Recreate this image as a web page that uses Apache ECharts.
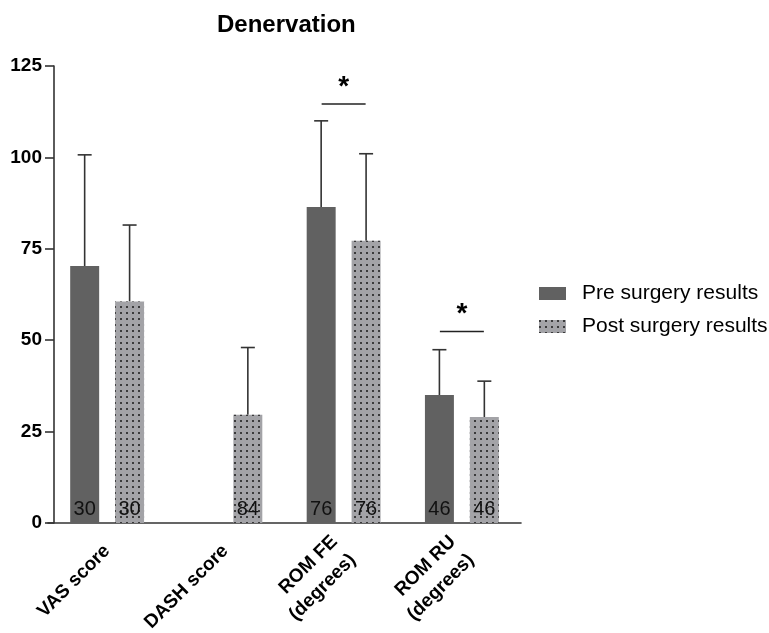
<!DOCTYPE html>
<html>
<head>
<meta charset="utf-8">
<script src="https://cdn.jsdelivr.net/npm/echarts@6/dist/echarts.min.js"></script>
<style>
  html, body { margin: 0; padding: 0; background: #fff; }
  #echarts { width: 769px; height: 633px; }
</style>
</head>
<body>
<div id="echarts"></div>
<script>
const categories = ['VAS score', 'DASH score', 'ROM FE\n(degrees)', 'ROM RU\n(degrees)'];
// mean values
const preMean = [70.3, '-', 86.4, 35.0];
const postMean = [60.6, 29.6, 77.2, 29.0];
// top of error bar (mean + SD)
const preUpper = [100.7, null, 110.0, 47.4];
const postUpper = [81.5, 48.0, 101.0, 38.8];
// n shown inside the bars
const preN = [30, null, 76, 46];
const postN = [30, 84, 76, 46];
// significance bars: [category index, height]
const sigBars = [[2, 114.6], [3, 52.4]];

const FONT = '"Liberation Sans", Arial, sans-serif';
const SHIFT = 0.19; // bar centre offset as part of the band

const chartDom = document.getElementById('echarts');
const myChart = echarts.init(chartDom);

function errorData(means, uppers) {
    let out = [];
    means.forEach((m, i) => {
        if (uppers[i] != null) out.push([i, m, uppers[i]]);
    });
    return out;
}

function errorRender(side) {
    return function (params, api) {
        const band = api.size([1, 0])[0];
        const x = api.coord([api.value(0), 0])[0] + side * band * SHIFT;
        const yBase = api.coord([api.value(0), api.value(1)])[1];
        const yTop = api.coord([api.value(0), api.value(2)])[1];
        const style = { stroke: '#333', lineWidth: 1.6 };
        return {
            type: 'group',
            children: [
                { type: 'line', shape: { x1: x, y1: yBase, x2: x, y2: yTop }, style: style },
                { type: 'line', shape: { x1: x - 7, y1: yTop, x2: x + 7, y2: yTop }, style: style }
            ]
        };
    };
}

let option = {
    backgroundColor: '#fff',
    title: {
        text: 'Denervation',
        left: 212,
        top: 8,
        textStyle: { fontFamily: FONT, fontWeight: 'bold', fontSize: 24, color: '#000' }
    },
    legend: {
        orient: 'vertical',
        left: 534,
        top: 278,
        itemWidth: 27,
        itemHeight: 13,
        itemGap: 12,
        icon: 'rect',
        data: ['Pre surgery results', 'Post surgery results'],
        textStyle: { fontFamily: FONT, fontSize: 21, color: '#000', padding: [0, 0, 0, 11] }
    },
    grid: { left: 48, right: 248, top: 66, bottom: 110, outerBoundsMode: 'none', containLabel: false },
    xAxis: {
        type: 'category',
        data: categories,
        axisLine: { lineStyle: { color: '#333', width: 1.6 } },
        axisTick: { alignWithLabel: true, length: 8, lineStyle: { color: '#333', width: 1.6 } },
        axisLabel: {
            rotate: 45,
            margin: 25,
            fontFamily: FONT,
            fontWeight: 'bold',
            fontSize: 19,
            lineHeight: 26,
            color: '#000',
            interval: 0
        }
    },
    yAxis: {
        type: 'value',
        min: 0,
        max: 125,
        interval: 25,
        offset: -6,
        splitLine: { show: false },
        axisLine: { show: true, lineStyle: { color: '#333', width: 1.6 } },
        axisTick: { show: true, length: 9, lineStyle: { color: '#333', width: 1.6 } },
        axisLabel: { fontFamily: FONT, fontWeight: 'bold', fontSize: 19, color: '#000', margin: 12 }
    },
    series: [
        {
            name: 'Pre surgery results',
            type: 'bar',
            data: preMean,
            barWidth: '24.5%',
            barGap: '55%',
            itemStyle: { color: '#616161' },
            label: {
                show: true,
                position: 'insideBottom',
                distance: 4,
                fontFamily: FONT,
                fontSize: 20,
                color: '#111',
                formatter: (p) => preN[p.dataIndex] == null ? '' : String(preN[p.dataIndex])
            }
        },
        {
            name: 'Post surgery results',
            type: 'bar',
            data: postMean,
            barWidth: '24.5%',
            itemStyle: {
                color: '#a3a3a7',
                decal: {
                    symbol: 'rect',
                    symbolSize: 1,
                    color: 'rgba(40,40,40,0.85)',
                    dashArrayX: [1.2, 3.1],
                    dashArrayY: [1.2, 3.3],
                    rotation: 0
                }
            },
            label: {
                show: true,
                position: 'insideBottom',
                distance: 4,
                fontFamily: FONT,
                fontSize: 20,
                color: '#111',
                formatter: (p) => String(postN[p.dataIndex])
            }
        },
        {
            name: 'preErr',
            type: 'custom',
            z: 1,
            renderItem: errorRender(-1),
            data: errorData(preMean, preUpper)
        },
        {
            name: 'postErr',
            type: 'custom',
            z: 1,
            renderItem: errorRender(1),
            data: errorData(postMean, postUpper)
        },
        {
            // 显著性标记
            name: 'sig',
            type: 'custom',
            renderItem: function (params, api) {
                const band = api.size([1, 0])[0];
                const pt = api.coord([api.value(0), api.value(1)]);
                return {
                    type: 'group',
                    children: [
                        {
                            type: 'line',
                            shape: { x1: pt[0] - band * 0.186, y1: pt[1], x2: pt[0] + band * 0.186, y2: pt[1] },
                            style: { stroke: '#222', lineWidth: 1.6 }
                        },
                        {
                            type: 'text',
                            x: pt[0],
                            y: pt[1] - 3,
                            style: {
                                text: '*',
                                fontFamily: FONT,
                                fontWeight: 'bold',
                                fontSize: 28,
                                fill: '#000',
                                align: 'center',
                                verticalAlign: 'bottom'
                            }
                        }
                    ]
                };
            },
            data: sigBars
        }
    ]
};
option && myChart.setOption(option);
</script>
</body>
</html>
